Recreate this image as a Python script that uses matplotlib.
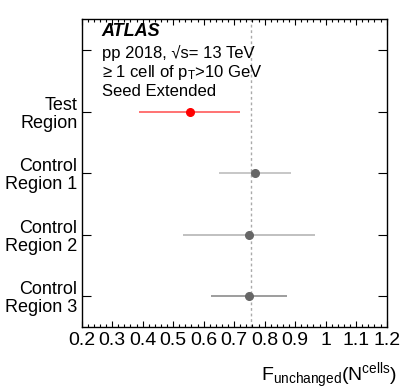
import numpy as np
import matplotlib
matplotlib.use("Agg")
import matplotlib.pyplot as plt
from matplotlib.ticker import MultipleLocator

plt.rcParams["font.family"] = ["Liberation Sans", "DejaVu Sans"]
plt.rcParams["mathtext.fontset"] = "custom"
plt.rcParams["mathtext.rm"] = "Liberation Sans"
plt.rcParams["mathtext.it"] = "Liberation Sans:italic"

# data
regions = ["Test\nRegion", "Control\nRegion 1", "Control\nRegion 2", "Control\nRegion 3"]
f_val = [0.554, 0.768, 0.748, 0.749]
f_lo = [0.389, 0.651, 0.533, 0.625]
f_hi = [0.719, 0.885, 0.965, 0.874]
ref_line = 0.755

marker_cols = ["#ff0000", "#666666", "#666666", "#666666"]
bar_cols = ["#ff5a5a", "#bdbdbd", "#b5b5b5", "#8c8c8c"]

fig = plt.figure(figsize=(4.07, 3.91), dpi=100)
ax = fig.add_axes([0.2007, 0.1645, 0.7494, 0.7857])

n = len(regions)
ypos = [n - i - 0.5 for i in range(n)]

ax.axvline(ref_line, color="#aaaaaa", linestyle=(0, (2, 2)), linewidth=1, zorder=1)

for y, v, lo, hi, mc, bc in zip(ypos, f_val, f_lo, f_hi, marker_cols, bar_cols):
    ax.errorbar([v], [y], xerr=[[v - lo], [hi - v]], fmt="none",
                ecolor=bc, elinewidth=1.2, capsize=0, zorder=2)
    ax.plot([v], [y], "o", color=mc, markersize=5.5, zorder=3)

ax.set_xlim(0.2, 1.2)
ax.set_ylim(0, 5)

ax.xaxis.set_major_locator(MultipleLocator(0.1))
ax.xaxis.set_minor_locator(MultipleLocator(0.02))
ax.set_xticks(np.arange(0.2, 1.21, 0.1))
ax.set_xticklabels(["0.2", "0.3", "0.4", "0.5", "0.6", "0.7", "0.8", "0.9", "1", "1.1", "1.2"])

ax.set_yticks(ypos + [4.5])
ax.set_yticklabels(regions + [""], fontsize=13, linespacing=1.1)

ax.tick_params(axis="x", which="major", direction="in", length=4.5, width=0.8,
               top=True, labelsize=14, pad=4)
ax.tick_params(axis="x", which="minor", direction="in", length=2.3, width=0.8, top=True)
ax.tick_params(axis="y", which="major", direction="in", length=6.8, width=0.8,
               right=True, pad=3)
for sp in ax.spines.values():
    sp.set_linewidth(1.0)

ax.set_xlabel(r"F$_\mathregular{unchanged}$(N$^\mathregular{cells}$)", fontsize=14,
              ha="right")
ax.xaxis.set_label_coords(1.034, -0.112)

ax.text(0.066, 0.96, "ATLAS", transform=ax.transAxes, fontsize=13,
        fontweight="bold", fontstyle="italic", va="center", ha="left")
ax.text(0.066, 0.891, "pp 2018, √s= 13 TeV", transform=ax.transAxes,
        fontsize=12, va="center", ha="left")
ax.text(0.066, 0.826, r"≥ 1 cell of p$_\mathregular{T}$>10 GeV", transform=ax.transAxes,
        fontsize=12, va="center", ha="left")
ax.text(0.066, 0.765, "Seed Extended", transform=ax.transAxes,
        fontsize=12, va="center", ha="left")

fig.savefig("out.png", dpi=100)
